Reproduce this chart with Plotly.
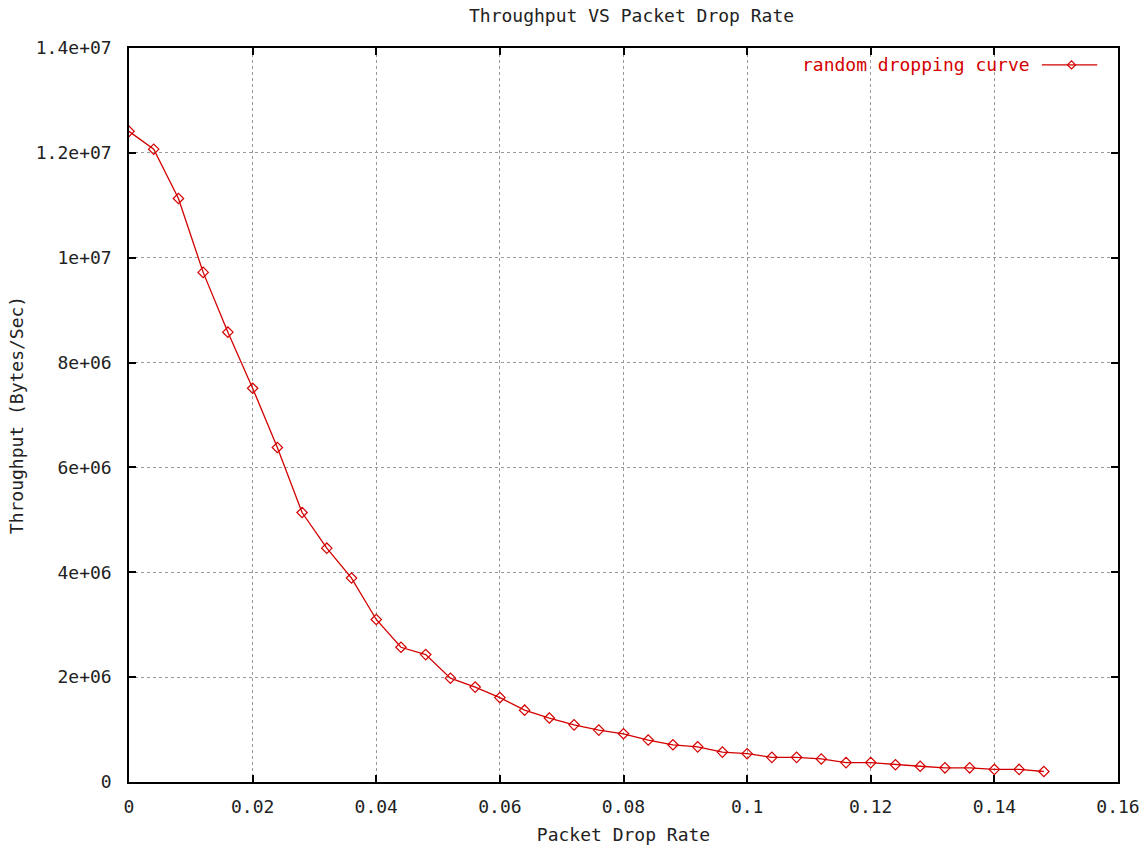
import plotly.graph_objects as go

# Data
drop_rate = [0.000, 0.004, 0.008, 0.012, 0.016, 0.020, 0.024, 0.028, 0.032, 0.036,
             0.040, 0.044, 0.048, 0.052, 0.056, 0.060, 0.064, 0.068, 0.072, 0.076,
             0.080, 0.084, 0.088, 0.092, 0.096, 0.100, 0.104, 0.108, 0.112, 0.116,
             0.120, 0.124, 0.128, 0.132, 0.136, 0.140, 0.144, 0.148]
throughput = [1.241e7, 1.207e7, 1.113e7, 9.72e6, 8.58e6, 7.51e6, 6.38e6, 5.14e6, 4.46e6, 3.89e6,
              3.10e6, 2.57e6, 2.43e6, 1.98e6, 1.81e6, 1.61e6, 1.37e6, 1.22e6, 1.09e6, 9.9e5,
              9.2e5, 8.0e5, 7.1e5, 6.7e5, 5.7e5, 5.4e5, 4.7e5, 4.7e5, 4.4e5, 3.7e5,
              3.7e5, 3.3e5, 3.0e5, 2.7e5, 2.7e5, 2.4e5, 2.4e5, 2.0e5]

x_tickvals = [0, 0.02, 0.04, 0.06, 0.08, 0.1, 0.12, 0.14, 0.16]
x_ticktext = ["0", "0.02", "0.04", "0.06", "0.08", "0.1", "0.12", "0.14", "0.16"]
y_tickvals = [0, 2e6, 4e6, 6e6, 8e6, 1e7, 1.2e7, 1.4e7]
y_ticktext = ["0", "2e+06", "4e+06", "6e+06", "8e+06", "1e+07", "1.2e+07", "1.4e+07"]

series_name = "random dropping curve"
title_text = "Throughput VS Packet Drop Rate"
x_title = "Packet Drop Rate"
y_title = "Throughput (Bytes/Sec)"

RED = "#d40000"
FONT = "DejaVu Sans Mono"
FS = 18

fig = go.Figure()
fig.add_trace(go.Scatter(
    x=drop_rate, y=throughput, mode="lines+markers", name=series_name,
    line=dict(color=RED, width=1.3),
    marker=dict(symbol="diamond-open", size=8, color=RED, line=dict(width=1.2, color=RED)),
    showlegend=False,
))

axis_common = dict(
    showline=True, linecolor="black", linewidth=1.5, mirror="ticks",
    ticks="inside", ticklen=7, tickwidth=1.5, tickcolor="black",
    showgrid=True, gridcolor="#9a9a9a", griddash="dot", gridwidth=1,
    zeroline=False, automargin=False,
    tickfont=dict(family=FONT, size=FS, color="#222222"),
)

fig.update_layout(
    width=1144, height=851,
    margin=dict(l=129, r=26, t=48, b=69, autoexpand=False),
    paper_bgcolor="white", plot_bgcolor="white",
    font=dict(family=FONT, size=FS, color="#222222"),
    xaxis=dict(range=[0, 0.16], tickvals=x_tickvals, ticktext=x_ticktext,
               ticklabelstandoff=8,
               title=dict(text=x_title, font=dict(family=FONT, size=FS), standoff=12),
               **axis_common),
    yaxis=dict(range=[0, 1.4e7], tickvals=y_tickvals, ticktext=y_ticktext,
               ticklabelstandoff=12,
               title=dict(text=y_title, font=dict(family=FONT, size=FS), standoff=7),
               **axis_common),
    showlegend=False,
)

# Title
fig.add_annotation(text=title_text, xref="paper", yref="paper",
                   x=0.508, y=1.0, yshift=33, showarrow=False,
                   xanchor="center", yanchor="middle",
                   font=dict(family=FONT, size=FS, color="#222222"))

# Legend (gnuplot style: text then sample on the right)
fig.add_annotation(text=series_name, xref="paper", yref="paper",
                   x=0.913, y=0.977, showarrow=False,
                   xanchor="right", yanchor="middle",
                   font=dict(family=FONT, size=FS, color=RED))
fig.add_shape(type="line", xref="paper", yref="paper",
              x0=0.923, x1=0.979, y0=0.977, y1=0.977,
              line=dict(color=RED, width=1.3))
fig.add_shape(type="path", xref="paper", yref="paper",
              xsizemode="pixel", ysizemode="pixel", xanchor=0.953, yanchor=0.977,
              path="M -4 0 L 0 4 L 4 0 L 0 -4 Z",
              line=dict(color=RED, width=1.2), fillcolor="rgba(0,0,0,0)")

fig.write_html("out.html")
